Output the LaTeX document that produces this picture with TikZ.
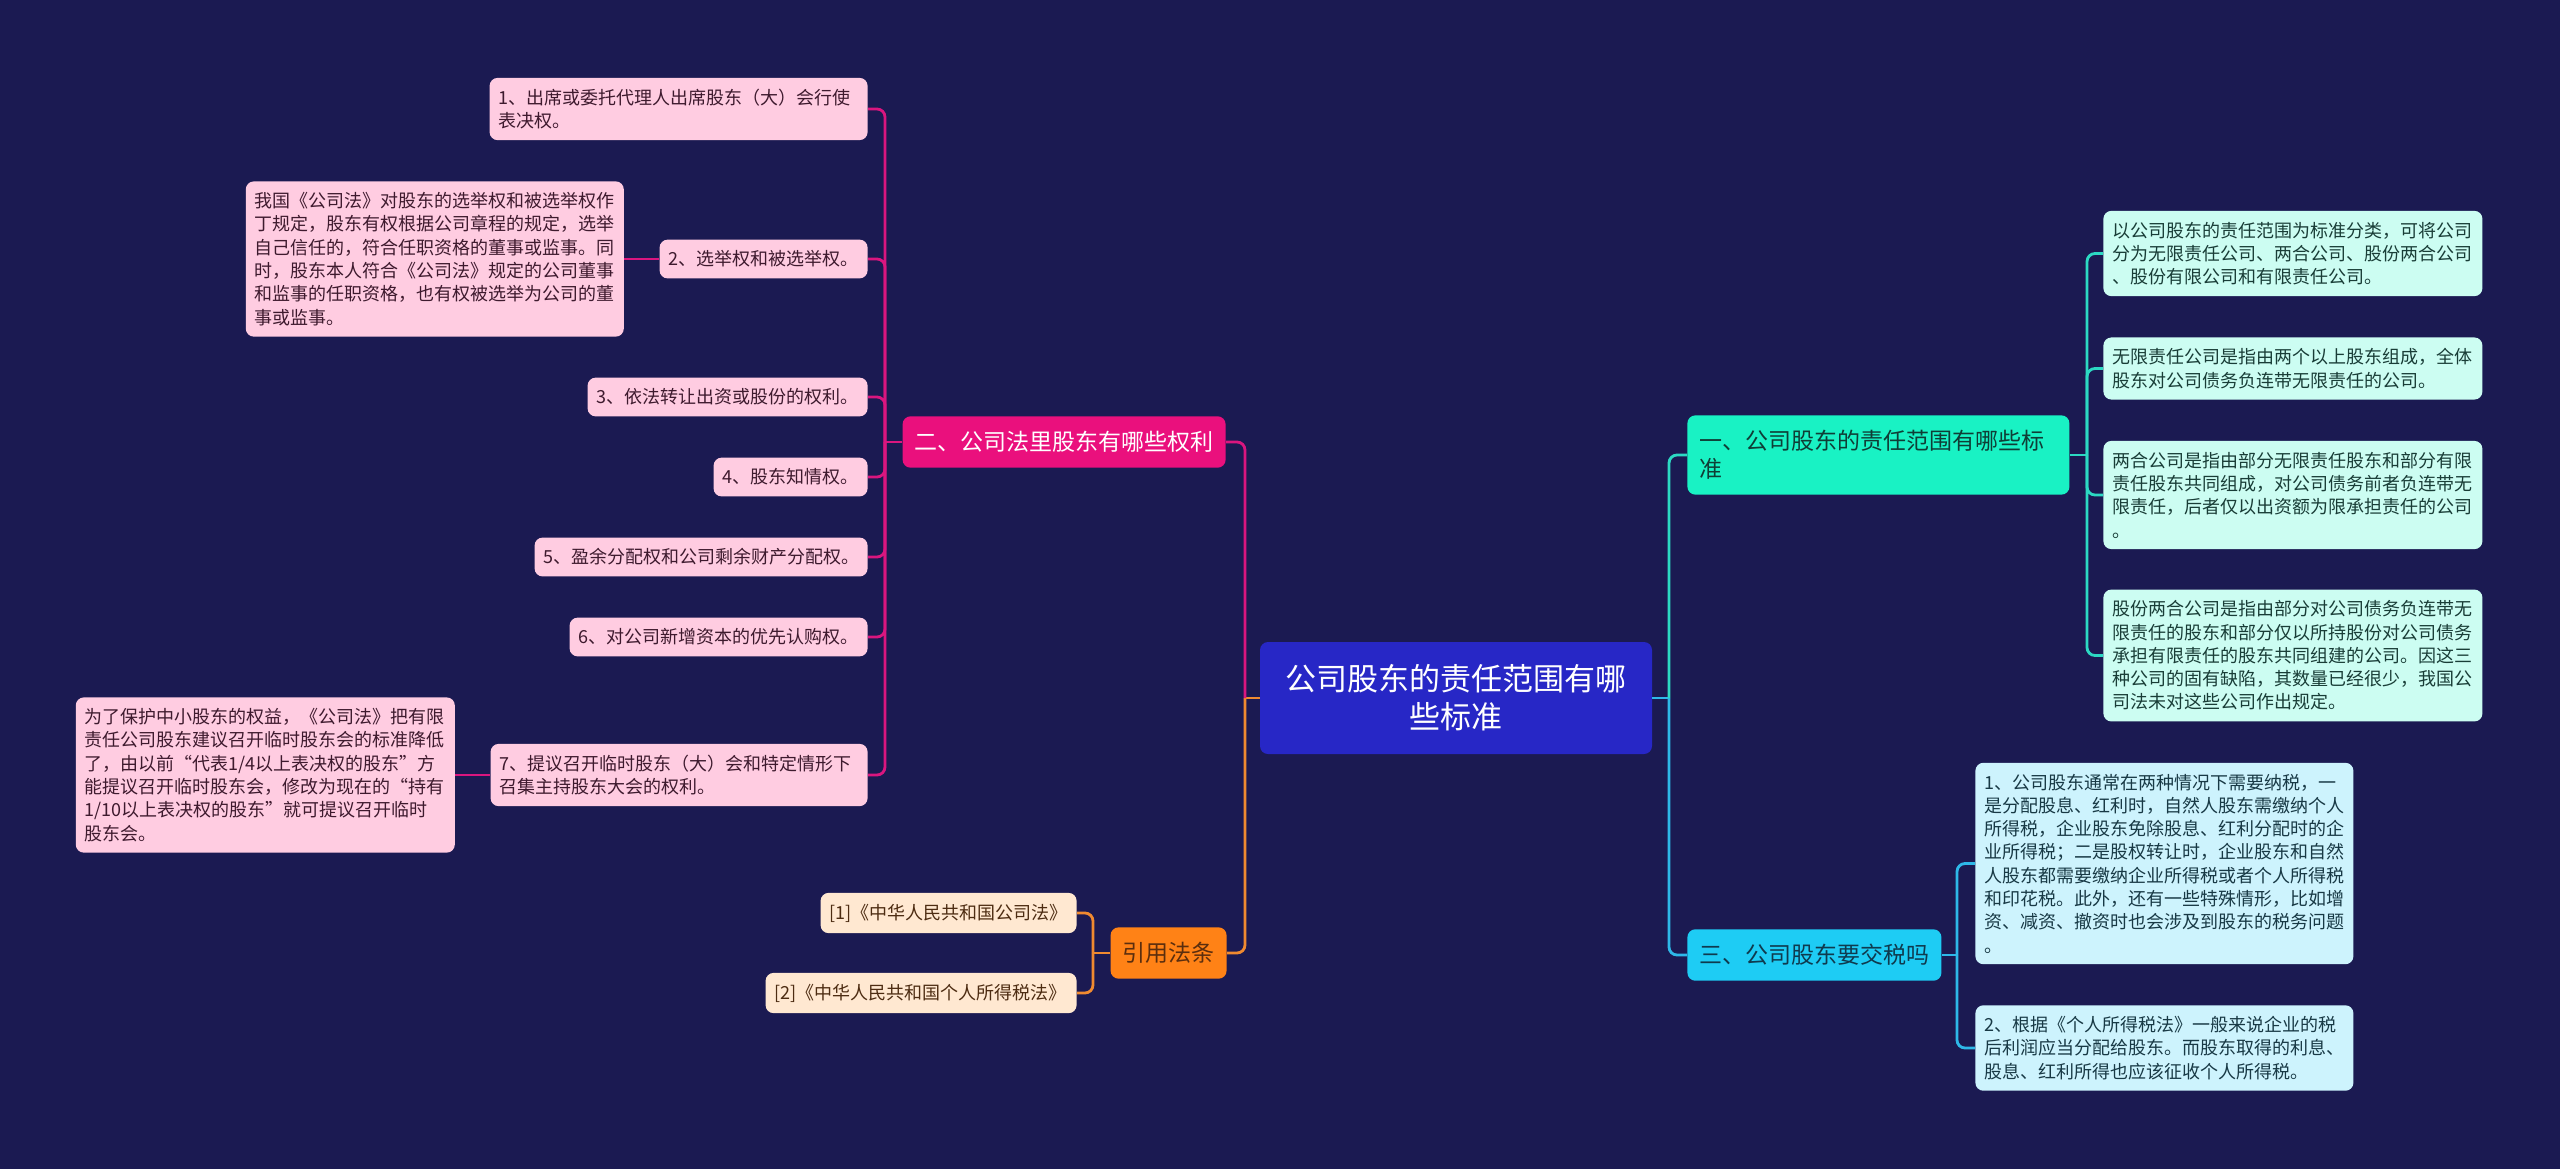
\documentclass[tikz,border=0pt]{standalone}
\usepackage{fontspec}
\setmainfont{Noto Sans CJK SC}
\usetikzlibrary{positioning}

\definecolor{navy}{HTML}{1B1A52}
\definecolor{rootblue}{HTML}{2727C6}
\definecolor{pinkhead}{HTML}{EA107D}
\definecolor{pinkink}{HTML}{FFFFFF}
\definecolor{pinkleaf}{HTML}{FFCCE1}
\definecolor{pinktext}{HTML}{3E1A2E}
\definecolor{pinkline}{HTML}{DA167F}
\definecolor{orangehead}{HTML}{FF8216}
\definecolor{orangeink}{HTML}{5B2E0E}
\definecolor{orangeleaf}{HTML}{FFE8D1}
\definecolor{orangetext}{HTML}{4D2C12}
\definecolor{orangeline}{HTML}{F08A30}
\definecolor{tealhead}{HTML}{19F2C4}
\definecolor{tealink}{HTML}{0F3E36}
\definecolor{tealleaf}{HTML}{CCFDF2}
\definecolor{tealtext}{HTML}{193D37}
\definecolor{tealline}{HTML}{2CD9C3}
\definecolor{cyanhead}{HTML}{1ECCF4}
\definecolor{cyanink}{HTML}{0F3A4E}
\definecolor{cyanleaf}{HTML}{CDF3FD}
\definecolor{cyantext}{HTML}{183945}
\definecolor{cyanline}{HTML}{2EB8E8}

\begin{document}
\begin{tikzpicture}[
  x=0.5pt, y=-0.5pt,
  node distance=17.5pt,
  rootbox/.style={fill=rootblue, text=white, rounded corners=4pt, align=center,
    minimum width=196pt, minimum height=56pt, font=\fontsize{15.5}{19}\selectfont},
  head/.style={fill=#1head, text=#1ink, rounded corners=4pt, align=left,
    inner xsep=6pt, inner ysep=7.5pt, font=\fontsize{11.5}{14}\selectfont},
  leaf/.style={fill=#1leaf, text=#1text, rounded corners=4pt, align=left,
    inner xsep=4.5pt, inner ysep=5.5pt, font=\fontsize{9}{11.65}\selectfont},
  link/.style={draw=#1line, line width=1.4pt, rounded corners=4pt}
]
  \fill[navy] (0,0) rectangle (2560,1169);

  % Root and main branches
  \node[rootbox] (root) at (1456,698) {公司股东的责任范围有哪\\些标准};
  \node[head=pink,   text width=149.5pt, anchor=east] (rights) at (1226,442) {二、公司法里股东有哪些权利};
  \node[head=orange, text width=46pt,    anchor=east] (cite)   at (1227,953) {引用法条};
  \node[head=teal,   text width=179pt,   anchor=west] (scope)  at (1687,455) {一、公司股东的责任范围有哪些标\\准};
  \node[head=cyan,   text width=115pt,   anchor=west] (tax)    at (1687,955) {三、公司股东要交税吗};

  % Rights
  \node[leaf=pink, text width=180pt,   anchor=east] (vote)   at (868,109) {1、出席或委托代理人出席股东（大）会行使\\表决权。};
  \node[leaf=pink, text width=95pt,    anchor=east] (elect)  at (868,259) {2、选举权和被选举权。};
  \node[leaf=pink, text width=180pt,   left=of elect] (electnote) {我国《公司法》对股东的选举权和被选举权作\\丁规定，股东有权根据公司章程的规定，选举\\自己信任的，符合任职资格的董事或监事。同\\时，股东本人符合《公司法》规定的公司董事\\和监事的任职资格，也有权被选举为公司的董\\事或监事。};
  \node[leaf=pink, text width=131pt,   anchor=east] (transfer) at (868,397) {3、依法转让出资或股份的权利。};
  \node[leaf=pink, text width=68pt,    anchor=east] (inform) at (868,477) {4、股东知情权。};
  \node[leaf=pink, text width=157.5pt, anchor=east] (profit) at (868,557) {5、盈余分配权和公司剩余财产分配权。};
  \node[leaf=pink, text width=140pt,   anchor=east] (prior)  at (868,637) {6、对公司新增资本的优先认购权。};
  \node[leaf=pink, text width=179.5pt, anchor=east] (meet)   at (868,775) {7、提议召开临时股东（大）会和特定情形下\\召集主持股东大会的权利。};
  \node[leaf=pink, text width=180.5pt, left=of meet] (meetnote) {为了保护中小股东的权益，《公司法》把有限\\责任公司股东建议召开临时股东会的标准降低\\了，由以前“代表1/4以上表决权的股东”方\\能提议召开临时股东会，修改为现在的“持有\\1/10以上表决权的股东”就可提议召开临时\\股东会。};

  % Citations
  \node[leaf=orange, text width=119pt,   anchor=east] (law1) at (1077,913) {[1]《中华人民共和国公司法》};
  \node[leaf=orange, text width=146.5pt, anchor=east] (law2) at (1077,993) {[2]《中华人民共和国个人所得税法》};

  % Scope
  \node[leaf=teal, text width=180.5pt, anchor=west] (kinds)   at (2103,253.5) {以公司股东的责任范围为标准分类，可将公司\\分为无限责任公司、两合公司、股份两合公司\\、股份有限公司和有限责任公司。};
  \node[leaf=teal, text width=180.5pt, anchor=west] (unlim)   at (2103,368.5) {无限责任公司是指由两个以上股东组成，全体\\股东对公司债务负连带无限责任的公司。};
  \node[leaf=teal, text width=180.5pt, anchor=west] (partner) at (2103,495) {两合公司是指由部分无限责任股东和部分有限\\责任股东共同组成，对公司债务前者负连带无\\限责任，后者仅以出资额为限承担责任的公司\\。};
  \node[leaf=teal, text width=180.5pt, anchor=west] (stockp)  at (2103,655.5) {股份两合公司是指由部分对公司债务负连带无\\限责任的股东和部分仅以所持股份对公司债务\\承担有限责任的股东共同组建的公司。因这三\\种公司的固有缺陷，其数量已经很少，我国公\\司法未对这些公司作出规定。};

  % Tax
  \node[leaf=cyan, text width=180pt, anchor=west] (taxcase) at (1975,863.5) {1、公司股东通常在两种情况下需要纳税，一\\是分配股息、红利时，自然人股东需缴纳个人\\所得税，企业股东免除股息、红利分配时的企\\业所得税；二是股权转让时，企业股东和自然\\人股东都需要缴纳企业所得税或者个人所得税\\和印花税。此外，还有一些特殊情形，比如增\\资、减资、撤资时也会涉及到股东的税务问题\\。};
  \node[leaf=cyan, text width=180pt, anchor=west] (taxlaw)  at (1975,1048) {2、根据《个人所得税法》一般来说企业的税\\后利润应当分配给股东。而股东取得的利息、\\股息、红利所得也应该征收个人所得税。};

  % Junctions
  \coordinate (jl) at (1245,698);
  \coordinate (jr) at (1669,698);
  \coordinate (jrights) at (885,442);
  \coordinate (jcite) at (1093,953);
  \coordinate (jscope) at (2087,455);
  \coordinate (jtax) at (1957,955);

  % Links
  \draw[link=orange] (root.west) -- (jl);
  \draw[link=orange] (jl) |- (cite.east);
  \draw[link=pink] (jl) |- (rights.east);
  \draw[link=cyan] (root.east) -- (jr);
  \draw[link=cyan] (jr) |- (tax.west);
  \draw[link=teal] (jr) |- (scope.west);

  \draw[link=pink] (rights.west) -- (jrights);
  \foreach \n in {vote,elect,transfer,inform,profit,prior,meet}
    \draw[link=pink] (jrights) |- (\n.east);
  \draw[link=pink] (elect.west) -- (electnote.east);
  \draw[link=pink] (meet.west) -- (meetnote.east);

  \draw[link=orange] (cite.west) -- (jcite);
  \draw[link=orange] (jcite) |- (law1.east);
  \draw[link=orange] (jcite) |- (law2.east);

  \draw[link=teal] (scope.east) -- (jscope);
  \foreach \n in {kinds,unlim,partner,stockp}
    \draw[link=teal] (jscope) |- (\n.west);

  \draw[link=cyan] (tax.east) -- (jtax);
  \draw[link=cyan] (jtax) |- (taxcase.west);
  \draw[link=cyan] (jtax) |- (taxlaw.west);
\end{tikzpicture}
\end{document}
